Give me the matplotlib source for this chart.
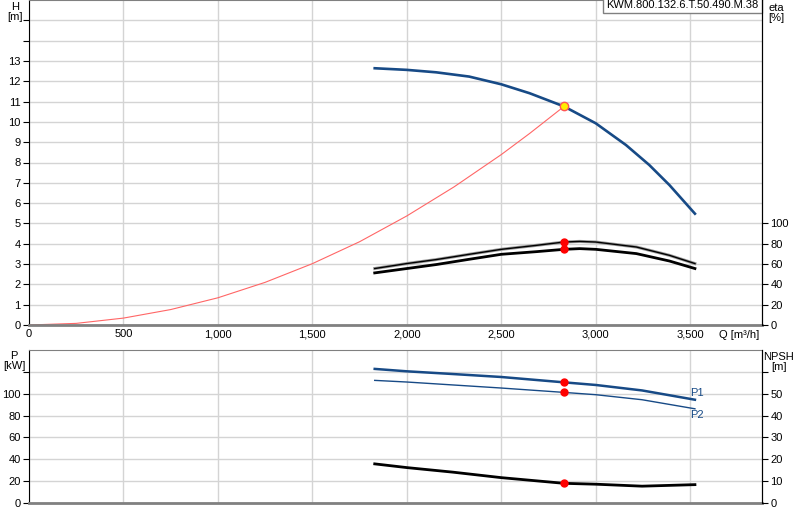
import matplotlib
matplotlib.use("Agg")
import matplotlib.pyplot as plt
from matplotlib.ticker import FuncFormatter

plt.rcParams['font.family'] = ['Liberation Sans', 'DejaVu Sans']
plt.rcParams['font.size'] = 8

# pump head curve
q_pump = [1830, 2000, 2155, 2330, 2500, 2650, 2832, 3000, 3160, 3283, 3390, 3525]
h_pump = [12.64, 12.56, 12.44, 12.23, 11.85, 11.41, 10.76, 9.93, 8.86, 7.88, 6.89, 5.48]

# system curve
q_sys = [0, 250, 500, 750, 1000, 1250, 1500, 1750, 2000, 2250, 2500, 2650, 2832]
h_sys = [0, 0.08, 0.34, 0.76, 1.34, 2.1, 3.02, 4.1, 5.37, 6.8, 8.39, 9.43, 10.76]

# efficiencies [%]
q_eta = [1830, 2000, 2155, 2330, 2500, 2685, 2832, 2915, 3000, 3215, 3390, 3525]
eta_1 = [55.6, 60.5, 64.4, 69.6, 74.5, 78.4, 81.7, 82.3, 81.7, 76.8, 68.6, 60.5]
eta_2 = [51.3, 55.6, 59.5, 64.7, 69.6, 72.2, 74.5, 75.2, 74.5, 70.3, 63.0, 55.6]

# power [kW] and npsh [m]
q_pow = [1830, 2000, 2245, 2500, 2832, 3000, 3245, 3525]
p1 = [122.7, 120.5, 118.0, 115.3, 110.4, 108.0, 103.0, 94.5]
p2 = [112.2, 110.7, 108.0, 105.2, 101.2, 99.1, 94.5, 86.2]
npsh = [17.9, 16.2, 14.1, 11.6, 9.0, 8.6, 7.7, 8.4]

q_duty = 2832
h_duty = 10.76
eta_duty = [81.7, 74.5]
p_duty = [110.4, 101.2]
npsh_duty = 9.0

model = "KWM.800.132.6.T.50.490.M.38"

blue = '#174a86'
grid_c = '#d4d4d4'
xmax = 3880

fig = plt.figure(figsize=(8, 5.2), dpi=100)
ax1 = fig.add_axes([29/800, 1-325/520, (762-29)/800, 325/520])
ax2 = fig.add_axes([29/800, 1-503/520, (762-29)/800, 153/520])

def style(ax, ymax, yticks, labels):
    ax.set_xlim(0, xmax)
    ax.set_ylim(0, ymax)
    ax.set_xticks([0, 500, 1000, 1500, 2000, 2500, 3000, 3500])
    ax.set_yticks(yticks)
    ax.set_yticklabels(labels)
    ax.grid(True, color=grid_c, lw=1)
    ax.set_axisbelow(True)
    ax.spines['left'].set_color('black')
    ax.spines['bottom'].set_color('#808080')
    ax.spines['bottom'].set_linewidth(2)
    ax.spines['top'].set_color('#808080')
    ax.spines['right'].set_color('black')
    ax.tick_params(axis='y', length=4, pad=2, colors='black')
    ax.tick_params(axis='x', length=0, pad=3)

style(ax1, 16, range(0, 16), [str(i) for i in range(14)] + ['', ''])
ax1.xaxis.set_major_formatter(FuncFormatter(lambda v, p: f"{int(v):,}"))
style(ax2, 140, range(0, 140, 20), ['0', '20', '40', '60', '80', '100', ''])
ax2.set_xticklabels([])

ax1.plot(q_sys, h_sys, color='#ff6666', lw=0.8)
ax1.plot(q_pump, h_pump, color=blue, lw=1.9)
ax1.plot([q_duty], [h_duty], 'o', ms=6, mfc='#ffee00', mec='#ff5555', mew=1, zorder=5)

ax1r = ax1.twinx()
ax1r.set_ylim(0, 320)
ax1r.set_yticks(range(0, 101, 20))
ax1r.tick_params(axis='y', length=4, pad=2)
for s in ['left', 'top', 'bottom']:
    ax1r.spines[s].set_visible(False)
ax1r.plot(q_eta, eta_1, color='#999999', lw=2.2)
ax1r.plot(q_eta, eta_1, color='black', lw=1.0)
ax1r.plot(q_eta, eta_2, color='black', lw=2)
ax1r.plot([q_duty] * 2, eta_duty, 'o', ms=5, color='red')

ax2.plot(q_pow, p1, color=blue, lw=1.8)
ax2.plot(q_pow, p2, color=blue, lw=1)
ax2.plot([q_duty] * 2, p_duty, 'o', ms=5, color='red')
ax2.text(3500, p1[-1] + 1.5, "P1", color=blue, fontsize=8, va='bottom')
ax2.text(3500, p2[-1] - 1.5, "P2", color=blue, fontsize=8, va='top')

ax2r = ax2.twinx()
ax2r.set_ylim(0, 70)
ax2r.set_yticks(range(0, 70, 10))
ax2r.set_yticklabels(['0', '10', '20', '30', '40', '50', ''])
ax2r.tick_params(axis='y', length=4, pad=2)
for s in ['left', 'top', 'bottom']:
    ax2r.spines[s].set_visible(False)
ax2r.plot(q_pow, npsh, color='black', lw=2)
ax2r.plot([q_duty], [npsh_duty], 'o', ms=5, color='red')

ax1.text(0.995, 1.0, model, transform=ax1.transAxes, ha='right', va='top',
         fontsize=8, bbox=dict(boxstyle='square,pad=0.3', fc='white', ec='#808080', lw=1))

fig.text(15/800, 1-12/520, "H\n[m]", ha='center', va='center', fontsize=8, linespacing=1.1)
fig.text(776/800, 1-13/520, "eta\n[%]", ha='center', va='center', fontsize=8, linespacing=1.1)
fig.text(14/800, 1-361/520, "P\n[kW]", ha='center', va='center', fontsize=8, linespacing=1.1)
fig.text(779/800, 1-362/520, "NPSH\n[m]", ha='center', va='center', fontsize=8, linespacing=1.1)
fig.text(739/800, 1-335/520, "Q [m³/h]", ha='center', va='center', fontsize=8)

fig.savefig("out.png", dpi=100)
